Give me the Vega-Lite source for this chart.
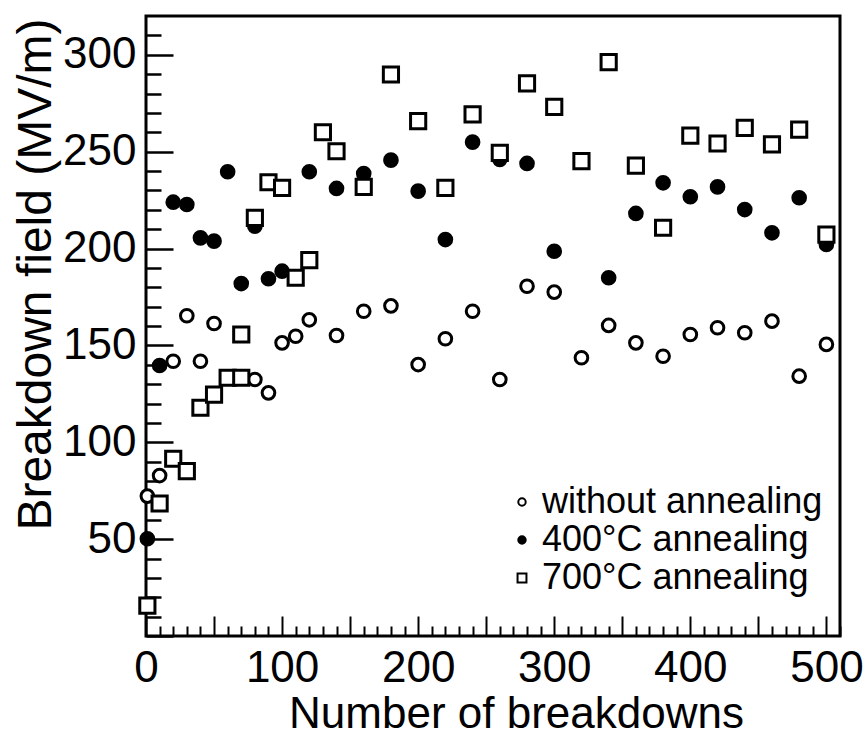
{
  "$schema": "https://vega.github.io/schema/vega-lite/v6.json",
  "width": 694,
  "height": 620,
  "autosize": "none",
  "padding": {"left": 146, "top": 16, "right": 25, "bottom": 102},
  "background": "white",
  "config": {
    "view": {"stroke": "black", "strokeWidth": 3},
    "font": "Liberation Sans",
    "axis": {"labelFont": "Liberation Sans", "titleFont": "Liberation Sans", "labelColor": "black", "titleColor": "black", "tickColor": "black", "grid": false, "domain": false, "titleFontWeight": "normal", "labelFlush": false}
  },
  "data": {"values": [
    {"s": "without annealing", "n": 1, "e": 72.2},
    {"s": "without annealing", "n": 10, "e": 82.8},
    {"s": "without annealing", "n": 20, "e": 141.8},
    {"s": "without annealing", "n": 30, "e": 165.3},
    {"s": "without annealing", "n": 40, "e": 141.8},
    {"s": "without annealing", "n": 50, "e": 161.3},
    {"s": "without annealing", "n": 80, "e": 132.4},
    {"s": "without annealing", "n": 90, "e": 125.5},
    {"s": "without annealing", "n": 100, "e": 151.3},
    {"s": "without annealing", "n": 110, "e": 154.7},
    {"s": "without annealing", "n": 120, "e": 163.2},
    {"s": "without annealing", "n": 140, "e": 155.1},
    {"s": "without annealing", "n": 160, "e": 167.6},
    {"s": "without annealing", "n": 180, "e": 170.4},
    {"s": "without annealing", "n": 200, "e": 140.1},
    {"s": "without annealing", "n": 220, "e": 153.4},
    {"s": "without annealing", "n": 240, "e": 167.6},
    {"s": "without annealing", "n": 260, "e": 132.4},
    {"s": "without annealing", "n": 280, "e": 180.5},
    {"s": "without annealing", "n": 300, "e": 177.5},
    {"s": "without annealing", "n": 320, "e": 143.6},
    {"s": "without annealing", "n": 340, "e": 160.3},
    {"s": "without annealing", "n": 360, "e": 151.3},
    {"s": "without annealing", "n": 380, "e": 144.4},
    {"s": "without annealing", "n": 400, "e": 155.6},
    {"s": "without annealing", "n": 420, "e": 159.1},
    {"s": "without annealing", "n": 440, "e": 156.5},
    {"s": "without annealing", "n": 460, "e": 162.5},
    {"s": "without annealing", "n": 480, "e": 134.1},
    {"s": "without annealing", "n": 500, "e": 150.5},
    {"s": "400°C annealing", "n": 1, "e": 50.2},
    {"s": "400°C annealing", "n": 10, "e": 139.6},
    {"s": "400°C annealing", "n": 20, "e": 223.9},
    {"s": "400°C annealing", "n": 30, "e": 222.7},
    {"s": "400°C annealing", "n": 40, "e": 205.5},
    {"s": "400°C annealing", "n": 50, "e": 203.8},
    {"s": "400°C annealing", "n": 60, "e": 239.6},
    {"s": "400°C annealing", "n": 70, "e": 181.9},
    {"s": "400°C annealing", "n": 80, "e": 211.5},
    {"s": "400°C annealing", "n": 90, "e": 184.4},
    {"s": "400°C annealing", "n": 100, "e": 188.3},
    {"s": "400°C annealing", "n": 120, "e": 239.6},
    {"s": "400°C annealing", "n": 140, "e": 231.0},
    {"s": "400°C annealing", "n": 160, "e": 238.7},
    {"s": "400°C annealing", "n": 180, "e": 245.6},
    {"s": "400°C annealing", "n": 200, "e": 229.6},
    {"s": "400°C annealing", "n": 220, "e": 204.6},
    {"s": "400°C annealing", "n": 240, "e": 254.9},
    {"s": "400°C annealing", "n": 260, "e": 246.0},
    {"s": "400°C annealing", "n": 280, "e": 243.9},
    {"s": "400°C annealing", "n": 300, "e": 198.6},
    {"s": "400°C annealing", "n": 340, "e": 184.9},
    {"s": "400°C annealing", "n": 360, "e": 218.1},
    {"s": "400°C annealing", "n": 380, "e": 233.9},
    {"s": "400°C annealing", "n": 400, "e": 226.7},
    {"s": "400°C annealing", "n": 420, "e": 231.8},
    {"s": "400°C annealing", "n": 440, "e": 220.1},
    {"s": "400°C annealing", "n": 460, "e": 208.1},
    {"s": "400°C annealing", "n": 480, "e": 226.2},
    {"s": "400°C annealing", "n": 500, "e": 202.1},
    {"s": "700°C annealing", "n": 1, "e": 15.7},
    {"s": "700°C annealing", "n": 10, "e": 68.4},
    {"s": "700°C annealing", "n": 20, "e": 91.5},
    {"s": "700°C annealing", "n": 30, "e": 85.1},
    {"s": "700°C annealing", "n": 40, "e": 117.8},
    {"s": "700°C annealing", "n": 50, "e": 124.6},
    {"s": "700°C annealing", "n": 60, "e": 133.3},
    {"s": "700°C annealing", "n": 70, "e": 133.3},
    {"s": "700°C annealing", "n": 70, "e": 155.6},
    {"s": "700°C annealing", "n": 80, "e": 215.8},
    {"s": "700°C annealing", "n": 90, "e": 234.2},
    {"s": "700°C annealing", "n": 100, "e": 231.3},
    {"s": "700°C annealing", "n": 110, "e": 184.9},
    {"s": "700°C annealing", "n": 120, "e": 194.0},
    {"s": "700°C annealing", "n": 130, "e": 260.0},
    {"s": "700°C annealing", "n": 140, "e": 250.2},
    {"s": "700°C annealing", "n": 160, "e": 231.8},
    {"s": "700°C annealing", "n": 180, "e": 289.8},
    {"s": "700°C annealing", "n": 200, "e": 265.7},
    {"s": "700°C annealing", "n": 220, "e": 231.3},
    {"s": "700°C annealing", "n": 240, "e": 269.2},
    {"s": "700°C annealing", "n": 260, "e": 249.4},
    {"s": "700°C annealing", "n": 280, "e": 285.2},
    {"s": "700°C annealing", "n": 300, "e": 273.1},
    {"s": "700°C annealing", "n": 320, "e": 245.1},
    {"s": "700°C annealing", "n": 340, "e": 296.2},
    {"s": "700°C annealing", "n": 360, "e": 242.8},
    {"s": "700°C annealing", "n": 380, "e": 210.7},
    {"s": "700°C annealing", "n": 400, "e": 258.3},
    {"s": "700°C annealing", "n": 420, "e": 254.2},
    {"s": "700°C annealing", "n": 440, "e": 262.3},
    {"s": "700°C annealing", "n": 460, "e": 253.7},
    {"s": "700°C annealing", "n": 480, "e": 261.4},
    {"s": "700°C annealing", "n": 500, "e": 207.2}
  ]},
  "layer": [
    {
      "mark": {"type": "point", "opacity": 0},
      "encoding": {
        "x": {"field": "n", "type": "quantitative", "scale": {"domain": [0, 510], "nice": false},
          "axis": {"orient": "bottom", "values": [10,20,30,40,60,70,80,90,110,120,130,140,160,170,180,190,210,220,230,240,260,270,280,290,310,320,330,340,360,370,380,390,410,420,430,440,460,470,480,490,510], "tickSize": -10, "tickWidth": 2, "labels": false, "title": null}},
        "y": {"field": "e", "type": "quantitative", "scale": {"domain": [0, 320], "nice": false},
          "axis": {"orient": "left", "values": [10,20,30,40,60,70,80,90,110,120,130,140,160,170,180,190,210,220,230,240,260,270,280,290,310], "tickSize": -15, "tickWidth": 2.5, "labels": false, "title": null}}
      }
    },
    {
      "mark": {"type": "point", "filled": true, "stroke": "black", "strokeWidth": 3, "size": 160, "opacity": 1},
      "encoding": {
        "x": {"field": "n", "type": "quantitative", "scale": {"domain": [0, 510], "nice": false},
          "axis": {"orient": "bottom", "values": [0,50,100,150,200,250,300,350,400,450,500], "tickSize": -20, "tickWidth": 2, "labelExpr": "datum.value % 100 === 0 ? datum.label : ''", "labelFontSize": 44, "labelPadding": 30, "title": "Number of breakdowns", "titleFontSize": 44, "titleX": 370, "titleY": 91, "titleBaseline": "alphabetic"}},
        "y": {"field": "e", "type": "quantitative", "scale": {"domain": [0, 320], "nice": false},
          "axis": {"orient": "left", "values": [0,50,100,150,200,250,300], "tickSize": -27, "tickWidth": 2.5, "labelExpr": "datum.value === 0 ? '' : datum.label", "labelFontSize": 44, "labelPadding": 37, "title": "Breakdown field (MV/m)", "titleFontSize": 48, "titleX": -96, "titleY": 258, "titleBaseline": "alphabetic", "titleAngle": 270}},
        "shape": {"field": "s", "type": "nominal", "scale": {"domain": ["without annealing", "400°C annealing", "700°C annealing"], "range": ["circle", "circle", "M-1.2,-1.2H1.2V1.2H-1.2Z"]},
          "legend": {"orient": "none", "legendX": 358, "legendY": 468, "title": null, "labelFontSize": 36, "labelFont": "Liberation Sans", "labelColor": "black", "labelLimit": 0, "symbolSize": 55, "symbolStrokeColor": "black", "symbolStrokeWidth": 2, "symbolOpacity": 1, "rowPadding": 2, "labelOffset": 2,
            "encode": {"symbols": {"update": {"stroke": {"value": "black"}, "strokeWidth": {"value": 2}, "opacity": {"value": 1}}}}}},
        "fill": {"field": "s", "type": "nominal", "scale": {"domain": ["without annealing", "400°C annealing", "700°C annealing"], "range": ["white", "black", "white"]},
          "legend": {"orient": "none", "legendX": 358, "legendY": 468, "title": null, "labelFontSize": 36, "labelFont": "Liberation Sans", "labelColor": "black", "labelLimit": 0, "symbolSize": 55, "symbolStrokeColor": "black", "symbolStrokeWidth": 2, "symbolOpacity": 1, "rowPadding": 2, "labelOffset": 2,
            "encode": {"symbols": {"update": {"stroke": {"value": "black"}, "strokeWidth": {"value": 2}, "opacity": {"value": 1}}}}}}
      }
    }
  ],
  "resolve": {"axis": {"x": "independent", "y": "independent"}}
}
